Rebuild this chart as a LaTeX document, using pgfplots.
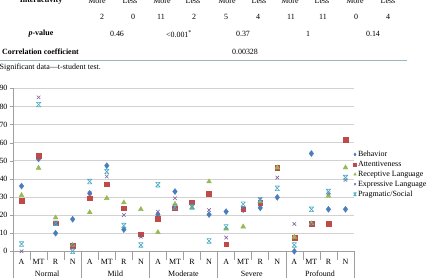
\documentclass[border=0pt]{standalone}
\usepackage{pgfplots}
\usepackage{pgfplotstable}
\pgfplotsset{compat=1.18}
\usepackage{fontspec}
\setmainfont{Liberation Serif}
\definecolor{cB}{HTML}{4A7EBB}
\definecolor{cA}{HTML}{BE4B48}
\definecolor{cR}{HTML}{98B954}
\definecolor{cE}{HTML}{7D60A0}
\definecolor{cP}{HTML}{46AAC5}
\definecolor{rule}{HTML}{9DB7C2}
\newcommand\ff{\fontsize{8}{9.6}\selectfont}
\pgfdeclareplotmark{xbar}{%
  \pgfpathmoveto{\pgfqpoint{-\pgfplotmarksize}{\pgfplotmarksize}}%
  \pgfpathlineto{\pgfqpoint{\pgfplotmarksize}{-\pgfplotmarksize}}%
  \pgfpathmoveto{\pgfqpoint{-\pgfplotmarksize}{-\pgfplotmarksize}}%
  \pgfpathlineto{\pgfqpoint{\pgfplotmarksize}{\pgfplotmarksize}}%
  \pgfpathmoveto{\pgfqpoint{-\pgfplotmarksize}{\pgfplotmarksize}}%
  \pgfpathlineto{\pgfqpoint{\pgfplotmarksize}{\pgfplotmarksize}}%
  \pgfpathmoveto{\pgfqpoint{-\pgfplotmarksize}{-\pgfplotmarksize}}%
  \pgfpathlineto{\pgfqpoint{\pgfplotmarksize}{-\pgfplotmarksize}}%
  \pgfusepathqstroke}
\pgfplotstableread{
x B At R E P
0 36 28 31 0 4
1 51 53 46 85 81
2 10 15.5 18.6 15.5 15.5
3 17.7 3.3 3.5 3.5 0
4 32 29.3 21.5 32 38.5
5 47.3 37 29.3 41.3 44
6 12 23.8 26.9 20 14.2
7 9 9.4 23.2 8.1 3.5
8 20.4 18.2 10.5 21.9 36.8
9 33 23.8 26.1 29.3 24.5
10 26 27.1 24.2 26 24.5
11 20.3 32 38.5 22.8 5.7
12 21.9 3.9 12.5 7.6 13.5
13 23 23.2 13.6 24 26
14 24 26.9 27.5 28.9 28.3
15 29.8 46.2 46.2 40.7 34.8
16 0 7.7 7.9 15.1 3.5
17 54 15.1 15.3 15 23.2
18 23.2 15.1 30.6 32 33
19 23.2 61.5 46.2 39.4 40.7
}\data
\begin{document}
\begin{tikzpicture}
\begin{axis}[
  name=ax,
  scale only axis, width=341bp, height=163bp,
  xmin=-0.5, xmax=19.5, ymin=0, ymax=90,
  clip=false,
  axis lines*=left,
  axis line style={draw=gray!75, line width=0.6pt},
  ytick={0,10,...,90},
  ymajorgrids, grid style={draw=gray!35, line width=0.6pt},
  tick align=outside,
  major tick length=3bp,
  y tick style={draw=gray!75},
  yticklabel style={xshift=1bp},
  xtick={0,...,19},
  xticklabels={A,MT,R,N,A,MT,R,N,A,MT,R,N,A,MT,R,N,A,MT,R,N},
  xticklabel style={yshift=-1bp},
  x tick style={draw=none},
  extra x ticks={1.5,5.5,9.5,13.5,17.5},
  extra x tick labels={Normal,Mild,Moderate,Severe,Profound},
  extra x tick style={grid=none, xticklabel style={yshift=-12bp}},
  tick label style={font=\ff},
  /pgf/number format/assume math mode=true,
  legend style={at={(0.998,0.62)}, anchor=north west, draw=none, fill=none,
    font=\ff, row sep=2.1bp, inner xsep=0pt, inner ysep=0pt, cells={anchor=west},
    nodes={inner xsep=1.5bp, inner ysep=0.5bp}},
  legend image code/.code={\draw[#1, mark size=1.5bp] plot coordinates {(0.06cm,0cm)};},
]
\pgfplotsinvokeforeach{0.5,1.5,2.5,4.5,5.5,6.5,8.5,9.5,10.5,12.5,13.5,14.5,16.5,17.5,18.5}{
  \draw[gray!75, line width=0.6pt] (axis cs:#1,0) -- ++(0bp,-9bp);}
\pgfplotsinvokeforeach{-0.5,3.5,7.5,11.5,15.5,19.5}{
  \draw[gray!75, line width=0.6pt] (axis cs:#1,0) -- ++(0bp,-27bp);}
\addplot[only marks, mark=diamond*, mark size=3bp, color=cB] table[x=x,y=B] {\data};
\addlegendentry{Behavior}
\addplot[only marks, mark=square*, mark size=2.4bp, color=cA] table[x=x,y=At] {\data};
\addlegendentry{Attentiveness}
\addplot[only marks, mark=triangle*, mark size=2.8bp, color=cR] table[x=x,y=R] {\data};
\addlegendentry{Receptive Language}
\addplot[only marks, mark=x, mark size=2.5bp, color=cE, line width=0.6pt] table[x=x,y=E] {\data};
\addlegendentry{Expressive Language}
\addplot[only marks, mark=xbar, mark size=2.3bp, color=cP, line width=0.6pt] table[x=x,y=P] {\data};
\addlegendentry{Pragmatic/Social}
\end{axis}
% everything below in bp from the page's bottom-left corner, which is 13bp left and 25.7bp below the axis origin
\begin{scope}[shift={(ax.south west)}, x=1bp, y=1bp, xshift=-13bp, yshift=-25.7bp]
\begin{scope}[every node/.style={inner sep=0pt, font=\ff}]
\node[font=\ff\bfseries] at (41,276.5) {Interactivity};
\foreach \x/\t in {97/More,130/Less,162/More,193/Less,227/More,259/Less,290/More,322/Less,355/More,388/Less}
  \node at (\x,276.5) {\t};
\foreach \x/\t in {102/2,133/0,161/11,194/2,226/5,258/4,291/11,323/11,356/0,388/4}
  \node at (\x,260) {\t};
\node[font=\ff\bfseries] at (41,243) {\textit{p}-value};
\foreach \x/\t in {117/0.46,243/0.37,308/1,373/0.14}
  \node at (\x,243) {\t};
\node at (179,243) {{<}0.001\textsuperscript{*}};
\node[font=\ff\bfseries, anchor=west] at (2,225) {Correlation coefficient};
\node at (245,225) {0.00328};
\node[anchor=west] at (-0.5,209) {Significant data---t-student test.};
\end{scope}
\draw[rule, line width=0.7pt] (0,217) -- (407,217);
\pgfresetboundingbox
\path[use as bounding box] (0,0) rectangle (435,277);
\end{scope}
\end{tikzpicture}
\end{document}
